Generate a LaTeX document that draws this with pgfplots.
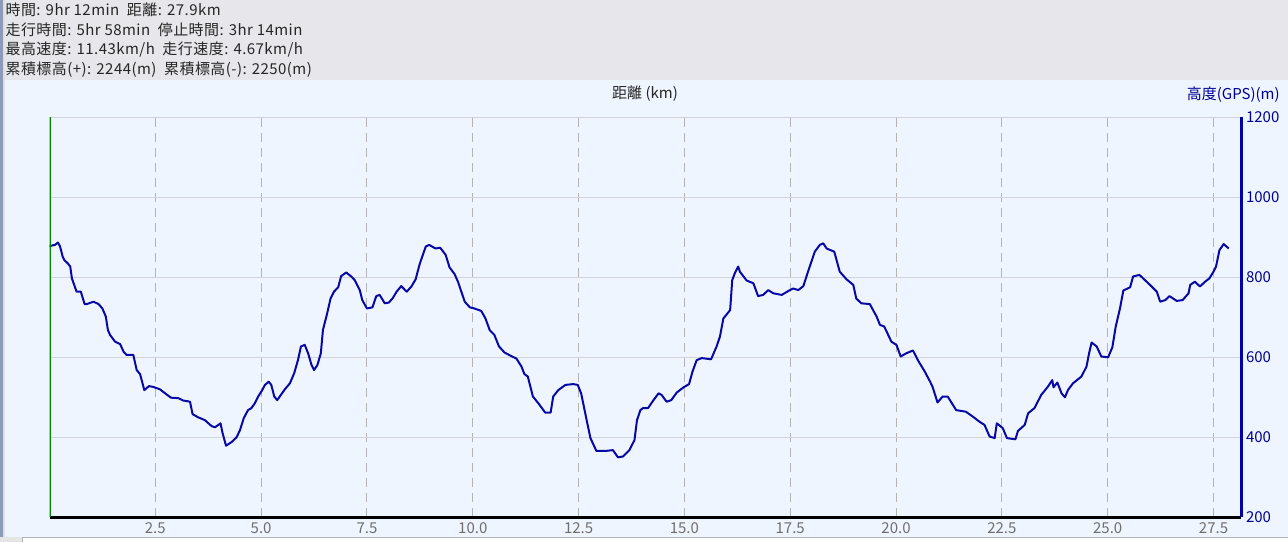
\documentclass[border=0pt]{standalone}
\usepackage{fontspec}
\setmainfont{Noto Sans CJK JP}
\usepackage{pgfplots}
\pgfplotsset{compat=1.18}

\definecolor{headbg}{RGB}{230,230,235}
\definecolor{plotbg}{RGB}{239,245,254}
\definecolor{gridh}{RGB}{210,210,216}
\definecolor{gridv}{RGB}{180,180,180}
\definecolor{trk}{RGB}{8,8,165}
\definecolor{axblue}{RGB}{0,0,170}
\definecolor{labblue}{RGB}{0,0,150}
\definecolor{axgreen}{RGB}{0,140,0}
\definecolor{tickgray}{RGB}{110,110,110}
\definecolor{bordblue}{RGB}{140,156,184}

\newcommand{\hfont}{\fontsize{7.5}{8}\selectfont}
\newcommand{\topfont}{\fontsize{7.5}{8}\selectfont\addfontfeature{LetterSpace=3}}

\begin{document}
\begin{tikzpicture}
\useasboundingbox (0,0) rectangle (644pt,271pt);
% window background
\fill[plotbg] (0,0) rectangle (644pt,271pt);
\fill[headbg] (0,231pt) rectangle (644pt,271pt);
\fill[bordblue] (0,0) rectangle (1.5pt,271pt);
\fill[gray!25] (1.5pt,0) rectangle (2.5pt,271pt);
\fill[gray!20] (0,0) rectangle (644pt,2.6pt);
\fill[white] (11pt,0) rectangle (644pt,2.1pt);
\draw[gray!60, line width=0.4pt] (11pt,0) -- (11pt,2.1pt) -- (644pt,2.1pt);

% header text
\begin{scope}[every node/.style={anchor=west, inner sep=0pt, font=\topfont, text=black!85}]
\node at (2.6pt,266pt) {時間: 9hr 12min\ \ 距離: 27.9km};
\node at (2.6pt,256pt) {走行時間: 5hr 58min\ \ 停止時間: 3hr 14min};
\node at (2.6pt,246.2pt) {最高速度: 11.43km/h\ \ 走行速度: 4.67km/h};
\node at (2.6pt,236.4pt) {累積標高(+): 2244(m)\ \ 累積標高(-): 2250(m)};
\end{scope}
\node[inner sep=0pt, font=\hfont, text=black!85] at (322.5pt,224pt) {距離 (km)};
\node[anchor=east, inner sep=0pt, font=\hfont, text=labblue] at (640pt,223.5pt) {高度(GPS)(m)};

\begin{axis}[
  at={(24.75pt,12.35pt)}, anchor=south west,
  scale only axis, width=595.75pt, height=200pt,
  xmin=0, xmax=28.15, ymin=200, ymax=1200,
  axis x line*=bottom, axis y line*=right,
  x axis line style={draw=black, line width=1.5pt, -},
  y axis line style={draw=axblue, line width=1.5pt, -},
  xtick={2.5,5,7.5,10,12.5,15,17.5,20,22.5,25,27.5},
  xticklabels={2.5,5.0,7.5,10.0,12.5,15.0,17.5,20.0,22.5,25.0,27.5},
  ytick={200,400,600,800,1000,1200},
  major tick length=0pt,
  tick label style={font=\hfont},
  xticklabel style={text=tickgray, yshift=1pt},
  yticklabel style={text=labblue, anchor=west, xshift=-1pt},
  /pgf/number format/assume math mode=true,
  /pgf/number format/1000 sep={},
  xmajorgrids, ymajorgrids,
  x grid style={draw=gridv, line width=0.5pt, dash pattern=on 4.5pt off 3pt},
  y grid style={draw=gridh, line width=0.5pt},
]
\addplot[trk, line width=1pt, line join=round] coordinates {
(0.00,878) (0.04,879) (0.13,881) (0.20,887) (0.25,877) (0.31,852) (0.35,843)
(0.43,835) (0.49,827) (0.53,797) (0.57,785) (0.64,764) (0.74,764) (0.83,733)
(0.88,733) (1.04,739) (1.16,733) (1.25,722) (1.33,702) (1.38,668) (1.43,656)
(1.55,639) (1.67,633) (1.75,614) (1.82,606) (1.98,606) (2.06,568) (2.14,558)
(2.24,518) (2.35,528) (2.45,526) (2.61,520) (2.73,510) (2.87,499) (3.04,498)
(3.16,492) (3.32,489) (3.38,458) (3.51,450) (3.67,443) (3.83,428) (3.91,425)
(3.99,431) (4.04,435) (4.09,410) (4.17,379) (4.30,388) (4.42,400) (4.50,418)
(4.59,448) (4.69,468) (4.77,473) (4.85,485) (4.93,502) (5.02,517) (5.09,531)
(5.18,539) (5.24,531) (5.31,502) (5.38,493) (5.48,508) (5.56,520) (5.68,535)
(5.78,560) (5.87,593) (5.94,627) (6.03,631) (6.11,610) (6.19,581) (6.25,568)
(6.33,581) (6.41,610) (6.46,668) (6.50,685) (6.56,710) (6.64,747) (6.72,764)
(6.82,775) (6.89,803) (6.93,806) (7.01,812) (7.13,802) (7.21,793) (7.33,768)
(7.39,743) (7.50,722) (7.63,725) (7.72,753) (7.80,756) (7.92,735) (8.02,737)
(8.11,748) (8.20,764) (8.31,778) (8.44,764) (8.55,777) (8.65,795) (8.74,831)
(8.82,856) (8.89,877) (8.97,881) (9.12,872) (9.23,874) (9.36,856) (9.45,825)
(9.57,808) (9.65,789) (9.81,739) (9.93,725) (10.04,722) (10.20,716) (10.30,697)
(10.40,668) (10.51,656) (10.62,627) (10.75,612) (10.91,603) (11.03,597)
(11.15,577) (11.22,558) (11.30,552) (11.42,502) (11.55,485) (11.71,462)
(11.84,462) (11.90,502) (12.02,518) (12.19,531) (12.37,533) (12.48,531)
(12.56,510) (12.69,443) (12.78,398) (12.92,366) (13.15,366) (13.31,368)
(13.43,350) (13.55,352) (13.70,368) (13.82,393) (13.88,443) (13.96,468)
(14.02,473) (14.14,473) (14.27,493) (14.39,510) (14.46,506) (14.58,489)
(14.69,493) (14.82,512) (14.98,525) (15.11,533) (15.19,564) (15.29,593)
(15.41,598) (15.63,595) (15.76,627) (15.84,652) (15.92,697) (16.08,718)
(16.13,793) (16.19,810) (16.27,827) (16.31,814) (16.47,792) (16.63,785)
(16.74,753) (16.86,756) (16.98,768) (17.10,760) (17.30,756) (17.49,768)
(17.57,772) (17.69,768) (17.81,778) (17.92,814) (18.08,864) (18.20,881)
(18.28,885) (18.36,872) (18.54,864) (18.67,814) (18.83,795) (18.99,781)
(19.06,747) (19.18,735) (19.38,733) (19.54,702) (19.62,681) (19.72,677)
(19.89,639) (20.01,631) (20.11,602) (20.24,610) (20.40,617) (20.52,592)
(20.68,564) (20.80,540) (20.86,527) (20.98,487) (21.10,502) (21.22,502)
(21.42,468) (21.65,464) (21.81,452) (21.97,439) (22.09,431) (22.21,402)
(22.33,398) (22.38,435) (22.52,423) (22.62,398) (22.82,395) (22.88,416)
(23.04,431) (23.12,460) (23.27,473) (23.43,506) (23.59,527) (23.69,543)
(23.72,525) (23.81,537) (23.91,510) (23.99,500) (24.06,518) (24.18,535)
(24.38,552) (24.50,577) (24.56,610) (24.62,637) (24.74,627) (24.85,602)
(25.01,600) (25.11,625) (25.19,677) (25.29,722) (25.37,767) (25.53,775)
(25.60,802) (25.75,806) (25.88,793) (26.00,781) (26.16,764) (26.24,739)
(26.36,743) (26.46,753) (26.63,741) (26.77,743) (26.91,760) (26.95,781)
(27.06,789) (27.18,777) (27.30,789) (27.40,797) (27.50,814) (27.56,827)
(27.64,868) (27.74,883) (27.86,872)
};
\draw[axgreen, line width=1pt] (rel axis cs:0,0) -- (rel axis cs:0,1);
\end{axis}
\end{tikzpicture}
\end{document}
